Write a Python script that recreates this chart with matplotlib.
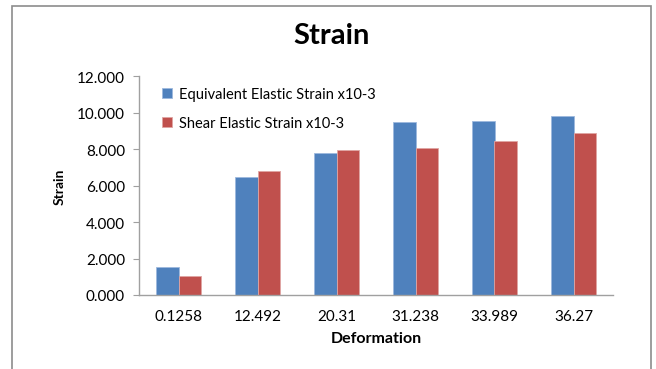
import matplotlib
matplotlib.use("Agg")
import matplotlib.pyplot as plt
import numpy as np
from matplotlib.patches import Rectangle

categories = ["0.1258", "12.492", "20.31", "31.238", "33.989", "36.27"]
equivalent = [1.52, 6.48, 7.78, 9.48, 9.57, 9.84]
shear = [1.06, 6.79, 7.94, 8.08, 8.47, 8.87]
series_names = ["Equivalent Elastic Strain x10-3", "Shear Elastic Strain x10-3"]
yticks = [0, 2, 4, 6, 8, 10, 12]

plt.rcParams['font.family'] = ['Lato', 'DejaVu Sans']

fig = plt.figure(figsize=6.56 * np.array([1, 370 / 656]), dpi=100)
fig.patch.set_facecolor("white")
fig.patches.append(Rectangle((12 / 656, -0.1), (651 - 12) / 656, 1.1 - 7 / 370,
                             transform=fig.transFigure, fill=False,
                             edgecolor="#8c8c8c", linewidth=1.2))

ax = fig.add_axes([139 / 656, 74 / 370, (613 - 139) / 656, (296 - 77.3) / 370])
x = np.arange(len(categories))
w = 0.28
ax.bar(x - w / 2, equivalent, w, color="#4F81BD", edgecolor="#9DB9DE", linewidth=0.6,
       label=series_names[0])
ax.bar(x + w / 2, shear, w, color="#C0504D", edgecolor="#E0A5A3", linewidth=0.6,
       label=series_names[1])

ax.set_xlim(-0.5, len(categories) - 0.5)
ax.set_ylim(0, 12)
ax.set_yticks(yticks)
ax.set_yticklabels([f"{v:.3f}" for v in yticks])
ax.set_xticks(x)
ax.set_xticklabels(categories)
for s in ["top", "right"]:
    ax.spines[s].set_visible(False)
for s in ["left", "bottom"]:
    ax.spines[s].set_color("#a0a0a0")
    ax.spines[s].set_linewidth(1.0)
ax.tick_params(axis="y", colors="#a0a0a0", labelcolor="black", labelsize=11,
               length=4, direction="out", pad=6)
ax.tick_params(axis="x", length=0, labelsize=11, pad=10)

ax.set_xlabel("Deformation", fontsize=11.5, fontweight="bold", labelpad=6)
ax.set_ylabel("Strain", fontsize=10, fontweight="bold", labelpad=8)
fig.text(332 / 656, 1 - 36 / 370, "Strain", ha="center", va="center",
         fontsize=21, fontweight="bold")

leg = ax.legend(loc="upper left", bbox_to_anchor=(0.02, 1.01), frameon=False,
                fontsize=10.5, handlelength=0.7, handleheight=0.7,
                handletextpad=0.5, labelspacing=1.0)

fig.savefig("out.png", dpi=100, facecolor="white")
